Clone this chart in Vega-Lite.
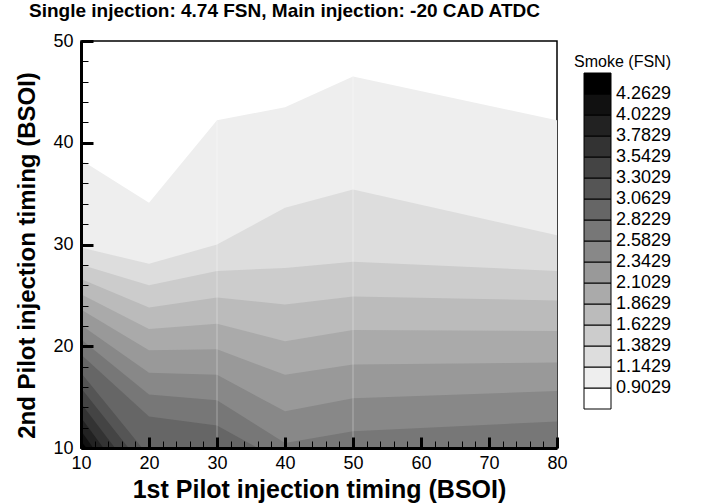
{
  "$schema": "https://vega.github.io/schema/vega-lite/v6.json",
  "width": 476,
  "height": 407,
  "autosize": {"type": "none"},
  "padding": {"left": 81, "top": 41, "right": 154, "bottom": 56},
  "background": "#ffffff",
  "title": {
    "text": "Single injection: 4.74 FSN, Main injection: -20 CAD ATDC",
    "anchor": "start",
    "frame": "group",
    "dx": -52,
    "offset": -4,
    "baseline": "alphabetic",
    "font": "Liberation Sans",
    "fontSize": 19,
    "fontWeight": "bold",
    "color": "#000000"
  },
  "config": {
    "view": {"stroke": "#000000", "strokeWidth": 1.5},
    "font": "Liberation Sans",
    "axis": {"grid": false}
  },
  "resolve": {"axis": {"x": "independent", "y": "independent"}},
  "datasets": {
    "contours": [
      {"level": 0.9029, "x": 10, "y": 38.3}, {"level": 0.9029, "x": 20, "y": 34.1}, {"level": 0.9029, "x": 30, "y": 42.2}, {"level": 0.9029, "x": 40, "y": 43.5}, {"level": 0.9029, "x": 50, "y": 46.5}, {"level": 0.9029, "x": 80, "y": 42.2},
      {"level": 1.1429, "x": 10, "y": 29.7}, {"level": 1.1429, "x": 20, "y": 28.1}, {"level": 1.1429, "x": 30, "y": 30.0}, {"level": 1.1429, "x": 40, "y": 33.6}, {"level": 1.1429, "x": 50, "y": 35.4}, {"level": 1.1429, "x": 80, "y": 30.9},
      {"level": 1.3829, "x": 10, "y": 28.0}, {"level": 1.3829, "x": 20, "y": 26.0}, {"level": 1.3829, "x": 30, "y": 27.4}, {"level": 1.3829, "x": 40, "y": 27.7}, {"level": 1.3829, "x": 50, "y": 28.3}, {"level": 1.3829, "x": 80, "y": 27.4},
      {"level": 1.6229, "x": 10, "y": 26.6}, {"level": 1.6229, "x": 20, "y": 23.8}, {"level": 1.6229, "x": 30, "y": 24.8}, {"level": 1.6229, "x": 40, "y": 24.1}, {"level": 1.6229, "x": 50, "y": 24.9}, {"level": 1.6229, "x": 80, "y": 24.5},
      {"level": 1.8629, "x": 10, "y": 25.1}, {"level": 1.8629, "x": 20, "y": 21.7}, {"level": 1.8629, "x": 30, "y": 22.2}, {"level": 1.8629, "x": 40, "y": 20.5}, {"level": 1.8629, "x": 50, "y": 21.6}, {"level": 1.8629, "x": 80, "y": 21.5},
      {"level": 2.1029, "x": 10, "y": 23.6}, {"level": 2.1029, "x": 20, "y": 19.6}, {"level": 2.1029, "x": 30, "y": 19.7}, {"level": 2.1029, "x": 40, "y": 17.2}, {"level": 2.1029, "x": 50, "y": 18.2}, {"level": 2.1029, "x": 80, "y": 18.4},
      {"level": 2.3429, "x": 10, "y": 22.1}, {"level": 2.3429, "x": 20, "y": 17.4}, {"level": 2.3429, "x": 30, "y": 17.2}, {"level": 2.3429, "x": 40, "y": 13.6}, {"level": 2.3429, "x": 50, "y": 14.9}, {"level": 2.3429, "x": 80, "y": 15.6},
      {"level": 2.5829, "x": 10, "y": 20.7}, {"level": 2.5829, "x": 20, "y": 15.25}, {"level": 2.5829, "x": 30, "y": 14.7}, {"level": 2.5829, "x": 40, "y": 10.5}, {"level": 2.5829, "x": 50, "y": 11.65}, {"level": 2.5829, "x": 80, "y": 12.6},
      {"level": 2.8229, "x": 10, "y": 19.2}, {"level": 2.8229, "x": 20, "y": 13.1}, {"level": 2.8229, "x": 30, "y": 12.2}, {"level": 2.8229, "x": 36, "y": 10},
      {"level": 3.0629, "x": 10, "y": 17.4}, {"level": 3.0629, "x": 19, "y": 10},
      {"level": 3.3029, "x": 10, "y": 15.9}, {"level": 3.3029, "x": 17, "y": 10},
      {"level": 3.5429, "x": 10, "y": 14.4}, {"level": 3.5429, "x": 15, "y": 10},
      {"level": 3.7829, "x": 10, "y": 13.0}, {"level": 3.7829, "x": 13.3, "y": 10},
      {"level": 4.0229, "x": 10, "y": 11.7}, {"level": 4.0229, "x": 11.8, "y": 10},
      {"level": 4.2629, "x": 10, "y": 10.7}, {"level": 4.2629, "x": 10.8, "y": 10}
    ],
    "seams": [
      {"x": 30, "ytop": 42.2},
      {"x": 50, "ytop": 46.5}
    ]
  },
  "layer": [
    {
      "data": {"name": "contours"},
      "mark": {"type": "area", "interpolate": "linear"},
      "encoding": {
        "x": {
          "field": "x",
          "type": "quantitative",
          "scale": {"domain": [10, 80], "nice": false, "zero": false},
          "axis": {
            "orient": "bottom",
            "zindex": 2,
            "title": "1st Pilot injection timing (BSOI)",
            "values": [10, 20, 30, 40, 50, 60, 70, 80],
            "tickSize": -11,
            "tickWidth": 3,
            "tickColor": "#000000",
            "domainColor": "#000000",
            "domainWidth": 3,
            "labelFont": "Liberation Sans",
            "labelFontSize": 18,
            "labelColor": "#000000",
            "labelPadding": 17,
            "labelFlush": false,
            "labelOverlap": false,
            "titleFont": "Liberation Sans",
            "titleFontSize": 25,
            "titleFontWeight": "bold",
            "titleColor": "#000000",
            "titlePadding": 5
          }
        },
        "y": {
          "field": "y",
          "type": "quantitative",
          "stack": null,
          "scale": {"domain": [10, 50], "nice": false, "zero": false},
          "axis": {
            "orient": "left",
            "zindex": 2,
            "title": "2nd Pilot injection timing (BSOI)",
            "values": [10, 20, 30, 40, 50],
            "tickSize": -12,
            "tickWidth": 3,
            "tickColor": "#000000",
            "domainColor": "#000000",
            "domainWidth": 3,
            "labelFont": "Liberation Sans",
            "labelFontSize": 18,
            "labelColor": "#000000",
            "labelPadding": 20,
            "labelFlush": false,
            "labelOverlap": false,
            "titleFont": "Liberation Sans",
            "titleFontSize": 24,
            "titleFontWeight": "bold",
            "titleColor": "#000000",
            "titlePadding": 13,
            "titleY": 214
          }
        },
        "y2": {"datum": 10},
        "color": {
          "field": "level",
          "type": "quantitative",
          "scale": {
            "type": "threshold",
            "domain": [0.9029, 1.1429, 1.3829, 1.6229, 1.8629, 2.1029, 2.3429, 2.5829, 2.8229, 3.0629, 3.3029, 3.5429, 3.7829, 4.0229, 4.2629],
            "range": ["#ffffff", "#eeeeee", "#dddddd", "#cccccc", "#bbbbbb", "#aaaaaa", "#999999", "#888888", "#777777", "#666666", "#555555", "#444444", "#333333", "#222222", "#111111", "#000000"]
          },
          "legend": {
            "type": "gradient",
            "direction": "vertical",
            "orient": "none",
            "legendX": 493,
            "legendY": 13,
            "title": "Smoke (FSN)",
            "titleFont": "Liberation Sans",
            "titleFontSize": 16,
            "titleFontWeight": "normal",
            "titleColor": "#000000",
            "titleAnchor": "end",
            "titlePadding": 3,
            "gradientLength": 336,
            "gradientThickness": 27,
            "gradientStrokeColor": "#000000",
            "gradientStrokeWidth": 1,
            "labelFont": "Liberation Sans",
            "labelFontSize": 18,
            "labelColor": "#000000",
            "labelOffset": 5,
            "labelOverlap": false,
            "labelExpr": "isFinite(datum.value) ? format(datum.value, '.4f') : ''"
          }
        }
      }
    },
    {
      "data": {"name": "seams"},
      "mark": {"type": "rule", "color": "#ffffff", "opacity": 0.35, "strokeWidth": 1},
      "encoding": {
        "x": {
          "field": "x",
          "type": "quantitative",
          "axis": {
            "orient": "bottom",
            "zindex": 2,
            "title": null,
            "labels": false,
            "domain": false,
            "values": [12, 14, 16, 18, 22, 24, 26, 28, 32, 34, 36, 38, 42, 44, 46, 48, 52, 54, 56, 58, 62, 64, 66, 68, 72, 74, 76, 78],
            "tickSize": -7,
            "tickWidth": 1,
            "tickColor": "#000000"
          }
        },
        "y": {
          "field": "ytop",
          "type": "quantitative",
          "axis": {
            "orient": "left",
            "zindex": 2,
            "title": null,
            "labels": false,
            "domain": false,
            "values": [12, 14, 16, 18, 22, 24, 26, 28, 32, 34, 36, 38, 42, 44, 46, 48],
            "tickSize": -7,
            "tickWidth": 1,
            "tickColor": "#000000"
          }
        },
        "y2": {"datum": 10}
      }
    }
  ]
}
